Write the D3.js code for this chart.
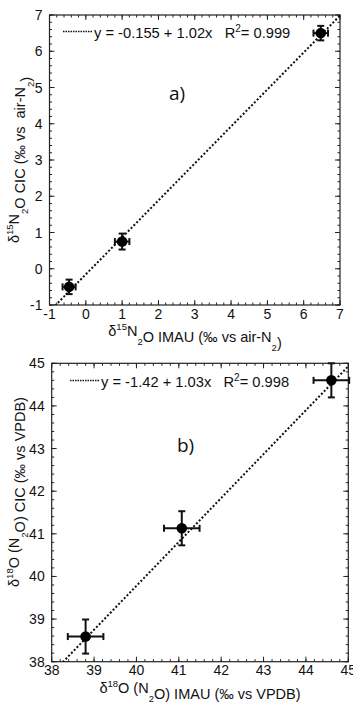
<!DOCTYPE html>
<html>
<head>
<meta charset="utf-8">
<script src="https://cdn.jsdelivr.net/npm/d3@7"></script>
<style>
  body { margin: 0; background: #fff; }
  svg text { font-family: "Liberation Sans", Arial, sans-serif; fill: #111; }
</style>
</head>
<body>
<svg id="chart" width="353" height="703"></svg>
<script>
// panel a: d15N of N2O, IMAU vs CIC
const aX = [-0.46, 1.0, 6.47];
const aY = [-0.5, 0.75, 6.5];
const aXerr = [0.18, 0.2, 0.2];
const aYerr = [0.2, 0.22, 0.2];
const aFit = [-0.155, 1.02];
const aTicks = [-1, 0, 1, 2, 3, 4, 5, 6, 7];

// panel b: d18O of N2O, IMAU vs CIC
const bX = [38.8, 41.07, 44.6];
const bY = [38.59, 41.13, 44.6];
const bXerr = [0.42, 0.42, 0.42];
const bYerr = [0.4, 0.4, 0.4];
const bFit = [-1.42, 1.03];
const bTicks = [38, 39, 40, 41, 42, 43, 44, 45];

const svg = d3.select("#chart");
const NB = "\u00a0";

function panel(o) {
  const g = svg.append("g");
  const x = d3.scaleLinear().domain(o.dom).range([o.left, o.right]);
  const y = d3.scaleLinear().domain(o.dom).range([o.bottom, o.top]);
  const clipId = "clip" + o.name;
  svg.append("clipPath").attr("id", clipId)
    .append("rect")
    .attr("x", o.left).attr("y", o.top)
    .attr("width", o.right - o.left).attr("height", o.bottom - o.top);

  // minor ticks (every 0.2)
  const minor = d3.range(o.dom[0], o.dom[1] + 1e-9, 0.2);
  const tk = g.append("g").attr("stroke", "#222").attr("stroke-width", 1);
  minor.forEach(v => {
    tk.append("line").attr("x1", x(v)).attr("x2", x(v)).attr("y1", o.bottom).attr("y2", o.bottom - 2.5);
    tk.append("line").attr("x1", x(v)).attr("x2", x(v)).attr("y1", o.top).attr("y2", o.top + 2.5);
    tk.append("line").attr("y1", y(v)).attr("y2", y(v)).attr("x1", o.left).attr("x2", o.left + 2.5);
    tk.append("line").attr("y1", y(v)).attr("y2", y(v)).attr("x1", o.right).attr("x2", o.right - 2.5);
  });
  o.ticks.forEach(v => {
    tk.append("line").attr("x1", x(v)).attr("x2", x(v)).attr("y1", o.bottom).attr("y2", o.bottom - 5);
    tk.append("line").attr("x1", x(v)).attr("x2", x(v)).attr("y1", o.top).attr("y2", o.top + 5);
    tk.append("line").attr("y1", y(v)).attr("y2", y(v)).attr("x1", o.left).attr("x2", o.left + 5);
    tk.append("line").attr("y1", y(v)).attr("y2", y(v)).attr("x1", o.right).attr("x2", o.right - 5);
  });

  g.append("rect")
    .attr("x", o.left).attr("y", o.top)
    .attr("width", o.right - o.left).attr("height", o.bottom - o.top)
    .attr("fill", "none").attr("stroke", "#222").attr("stroke-width", 1.2);

  // tick labels
  g.append("g").selectAll("text").data(o.ticks).join("text")
    .attr("x", d => x(d)).attr("y", o.bottom + 13.5)
    .attr("text-anchor", "middle").attr("font-size", 14)
    .text(d => d);
  g.append("g").selectAll("text").data(o.ticks).join("text")
    .attr("x", o.left - 7).attr("y", d => y(d) + 5)
    .attr("text-anchor", "end").attr("font-size", 14)
    .text(d => d);

  // regression line
  g.append("line")
    .attr("clip-path", `url(#${clipId})`)
    .attr("x1", x(o.dom[0])).attr("y1", y(o.fit[0] + o.fit[1] * o.dom[0]))
    .attr("x2", x(o.dom[1])).attr("y2", y(o.fit[0] + o.fit[1] * o.dom[1]))
    .attr("stroke", "#111").attr("stroke-width", 2).attr("stroke-dasharray", "2,2");

  // error bars and points
  const pts = o.xs.map((v, i) => ({x: v, y: o.ys[i], ex: o.xerr[i], ey: o.yerr[i]}));
  const eb = g.append("g").attr("stroke", "#111").attr("stroke-width", 2);
  const cap = 3.5;
  pts.forEach(p => {
    eb.append("line").attr("x1", x(p.x - p.ex)).attr("x2", x(p.x + p.ex)).attr("y1", y(p.y)).attr("y2", y(p.y));
    eb.append("line").attr("y1", y(p.y - p.ey)).attr("y2", y(p.y + p.ey)).attr("x1", x(p.x)).attr("x2", x(p.x));
    [p.x - p.ex, p.x + p.ex].forEach(v =>
      eb.append("line").attr("x1", x(v)).attr("x2", x(v)).attr("y1", y(p.y) - cap).attr("y2", y(p.y) + cap));
    [p.y - p.ey, p.y + p.ey].forEach(v =>
      eb.append("line").attr("y1", y(v)).attr("y2", y(v)).attr("x1", x(p.x) - cap).attr("x2", x(p.x) + cap));
  });
  g.append("g").selectAll("circle").data(pts).join("circle")
    .attr("cx", d => x(d.x)).attr("cy", d => y(d.y)).attr("r", 5.3).attr("fill", "#000");

  // legend
  g.append("line")
    .attr("x1", o.legX).attr("x2", o.legX + 30).attr("y1", o.legY - 6).attr("y2", o.legY - 6)
    .attr("stroke", "#111").attr("stroke-width", 1.5).attr("stroke-dasharray", "1.5,1");
  const lt = g.append("text").attr("x", o.legX + 31).attr("y", o.legY).attr("font-size", 14.7);
  lt.append("tspan").text(o.legText + NB + NB + NB + "R");
  lt.append("tspan").attr("font-size", 10).attr("dy", -6).text("2");
  lt.append("tspan").attr("dy", 6).text("=" + NB + o.r2);

  // panel letter
  g.append("text").attr("x", o.letX).attr("y", o.letY)
    .attr("font-size", 19)
    .style("font-family", "'Open Sans', sans-serif")
    .text(o.letter);

  // axis titles
  const xt = g.append("text").attr("x", o.xtX).attr("y", o.xtY)
    .attr("text-anchor", "middle").attr("font-size", 14.5);
  o.xTitle.forEach(s => xt.append("tspan").attr("font-size", s.sz || 14.5).attr("dy", s.dy || 0).text(s.t));
  const yt = g.append("text")
    .attr("transform", `translate(${o.ytX},${o.ytY}) rotate(-90)`)
    .attr("text-anchor", "middle").attr("font-size", 14.5);
  o.yTitle.forEach(s => yt.append("tspan").attr("font-size", s.sz || 14.5).attr("dy", s.dy || 0).text(s.t));
}

const sup = t => ({t, sz: 9.5, dy: -6});
const sub = t => ({t, sz: 9.5, dy: 9});
const back = (t, d) => ({t, dy: d});

panel({
  name: "a", dom: [-1, 7], ticks: aTicks,
  left: 49.5, right: 340, top: 15, bottom: 305,
  xs: aX, ys: aY, xerr: aXerr, yerr: aYerr, fit: aFit,
  legX: 63, legY: 37.5, legText: "y = -0.155 + 1.02x", r2: "0.999",
  letter: "a)", letX: 169, letY: 100,
  xtX: 195, xtY: 336,
  xTitle: [{t: "δ"}, sup("15"), back("N", 6), sub("2"), back("O IMAU (‰ vs air-N", -3), sub("2"), back(")", -3)],
  ytX: 19, ytY: 160,
  yTitle: [{t: "δ"}, sup("15"), back("N", 6), sub("2"), back("O CIC (‰ vs" + NB + NB + "air-N", -3), sub("2"), back(")", -3)]
});

panel({
  name: "b", dom: [38, 45], ticks: bTicks,
  left: 51.7, right: 348.3, top: 363.3, bottom: 661.7,
  xs: bX, ys: bY, xerr: bXerr, yerr: bYerr, fit: bFit,
  legX: 70, legY: 386.5, legText: "y = -1.42 + 1.03x", r2: "0.998",
  letter: "b)", letX: 177, letY: 452,
  xtX: 200, xtY: 693,
  xTitle: [{t: "δ"}, sup("18"), back("O (N", 6), sub("2"), back("O) IMAU (‰ vs VPDB)", -3)],
  ytX: 19, ytY: 492,
  yTitle: [{t: "δ"}, sup("18"), back("O (N", 6), sub("2"), back("O) CIC (‰ vs VPDB)", -3)]
});
</script>
</body>
</html>
